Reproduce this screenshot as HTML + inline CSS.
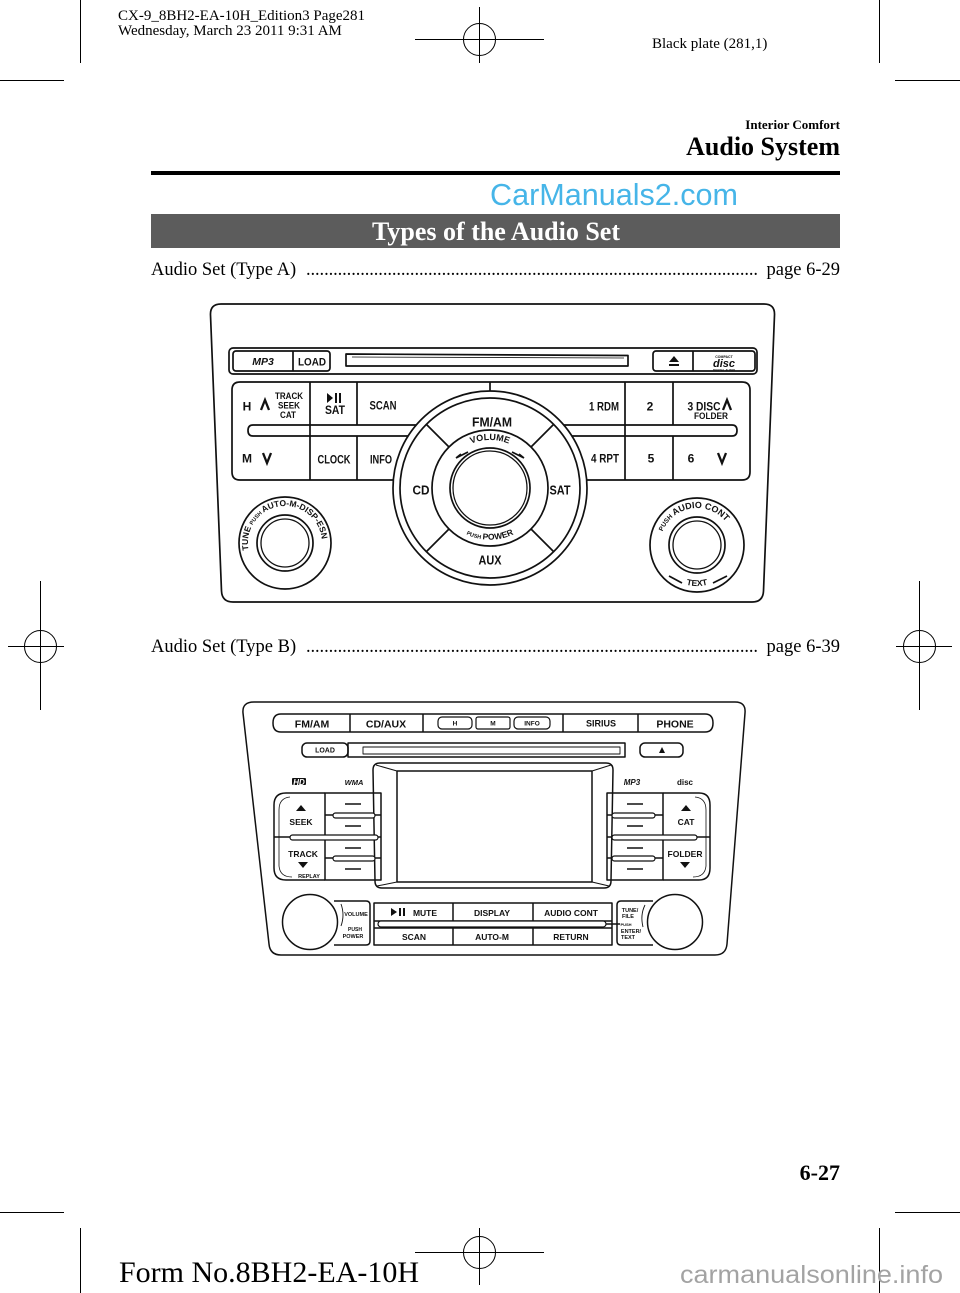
<!DOCTYPE html>
<html>
<head>
<meta charset="utf-8">
<style>
html,body{margin:0;padding:0;background:#fff;}
body{width:960px;height:1293px;position:relative;overflow:hidden;}
svg{position:absolute;left:0;top:0;}
.s{font-family:"Liberation Serif",serif;fill:#000;}
.l{font-family:"Liberation Sans",sans-serif;font-weight:bold;fill:#111;text-anchor:middle;}
</style>
</head>
<body>
<svg width="960" height="1293" viewBox="0 0 960 1293" xmlns="http://www.w3.org/2000/svg">
<defs>
  <path id="volArc" d="M448.4,464 A48,48 0 0,1 531.6,464"/>
  <path id="pwrArc" d="M446,517 A54,54 0 0,0 534,517"/>
  <path id="tuneArc" d="M250.2,555.7 A37,37 0 1,1 318.5,558.6"/>
  <path id="audArc" d="M660.6,538.6 A37,37 0 1,1 731.8,557.7"/>
  <path id="txtArc" d="M672,578 A43,43 0 0,0 722,578"/>
</defs>

<!-- crop marks -->
<g stroke="#000" stroke-width="1" fill="none">
  <line x1="80.5" y1="0" x2="80.5" y2="63"/>
  <line x1="879.5" y1="0" x2="879.5" y2="63"/>
  <line x1="0" y1="80.5" x2="64" y2="80.5"/>
  <line x1="895" y1="80.5" x2="960" y2="80.5"/>
  <line x1="415" y1="39.5" x2="544" y2="39.5"/>
  <line x1="479.5" y1="7" x2="479.5" y2="63"/>
  <circle cx="479.5" cy="39.5" r="16"/>
  <line x1="40.5" y1="581" x2="40.5" y2="710"/>
  <line x1="8" y1="646.5" x2="64" y2="646.5"/>
  <circle cx="40.5" cy="646.5" r="16"/>
  <line x1="919.5" y1="581" x2="919.5" y2="710"/>
  <line x1="896" y1="646.5" x2="952" y2="646.5"/>
  <circle cx="919.5" cy="646.5" r="16"/>
  <line x1="0" y1="1212.5" x2="64" y2="1212.5"/>
  <line x1="895" y1="1212.5" x2="960" y2="1212.5"/>
  <line x1="80.5" y1="1228" x2="80.5" y2="1293"/>
  <line x1="879.5" y1="1228" x2="879.5" y2="1293"/>
  <line x1="415" y1="1252.5" x2="544" y2="1252.5"/>
  <line x1="479.5" y1="1228" x2="479.5" y2="1285"/>
  <circle cx="479.5" cy="1252.5" r="16"/>
</g>

<!-- header text -->
<text class="s" x="118" y="20" font-size="15">CX-9_8BH2-EA-10H_Edition3 Page281</text>
<text class="s" x="118" y="35" font-size="15">Wednesday, March 23 2011 9:31 AM</text>
<text class="s" x="652" y="48" font-size="15">Black plate (281,1)</text>
<text class="s" x="840" y="129" font-size="13" font-weight="bold" text-anchor="end">Interior Comfort</text>
<text class="s" x="840" y="155" font-size="26" font-weight="bold" text-anchor="end">Audio System</text>
<rect x="151" y="171" width="689" height="4" fill="#000"/>
<text x="614" y="205" font-family="Liberation Sans, sans-serif" font-size="31" fill="#46b5e8" text-anchor="middle" textLength="248" lengthAdjust="spacingAndGlyphs">CarManuals2.com</text>
<rect x="151" y="214" width="689" height="34" fill="#5c5c5c"/>
<text class="s" x="496" y="240" font-size="26" font-weight="bold" fill="#fff" style="fill:#fff" text-anchor="middle">Types of the Audio Set</text>

<text class="s" x="151" y="275" font-size="18.5">Audio Set (Type A)</text>
<text class="s" x="306" y="275" font-size="18.5" textLength="452" lengthAdjust="spacing">....................................................................................................</text>
<text class="s" x="840" y="275" font-size="18.5" text-anchor="end">page 6-29</text>

<text class="s" x="151" y="652" font-size="18.5">Audio Set (Type B)</text>
<text class="s" x="306" y="652" font-size="18.5" textLength="452" lengthAdjust="spacing">....................................................................................................</text>
<text class="s" x="840" y="652" font-size="18.5" text-anchor="end">page 6-39</text>

<!-- ================= TYPE A ================= -->
<g stroke="#111" stroke-width="1.7" fill="none" stroke-linejoin="round">
  <path d="M221,304 H764 Q775,304 774.5,315 L763.5,591 Q763,602 752,602 H233 Q222,602 221.5,591 L210.5,315 Q210,304 221,304 Z"/>
  <rect x="229" y="348" width="528" height="26" rx="4"/>
  <rect x="233" y="351" width="97" height="20" rx="3"/>
  <line x1="293" y1="351" x2="293" y2="371"/>
  <path d="M346,354 L628,355.5 L628,366 L346,366 Z"/>
  <line x1="352" y1="357" x2="624" y2="358" stroke-width="0.8"/>
  <rect x="653" y="351" width="102" height="20" rx="3"/>
  <line x1="693" y1="351" x2="693" y2="371"/>

  <path d="M240,382 H742 Q750,382 750,390 V472 Q750,480 742,480 H240 Q232,480 232,472 V390 Q232,382 240,382 Z"/>
  <path d="M253,425 H732 Q737,425 737,430.5 Q737,436 732,436 H253 Q248,436 248,430.5 Q248,425 253,425 Z"/>
  <line x1="310" y1="382" x2="310" y2="480"/>
  <line x1="357" y1="382" x2="357" y2="425"/>
  <line x1="357" y1="436" x2="357" y2="480"/>
  <line x1="625" y1="382" x2="625" y2="480"/>
  <line x1="673" y1="382" x2="673" y2="425"/>
  <line x1="673" y1="436" x2="673" y2="480"/>
  <line x1="490" y1="382" x2="490" y2="392"/>

  <circle cx="490" cy="488" r="97" fill="#fff"/>
  <circle cx="490" cy="488" r="90"/>
  <circle cx="490" cy="488" r="58"/>
  <circle cx="490" cy="488" r="40"/>
  <circle cx="490" cy="488" r="37" stroke-width="1.3"/>
  <line x1="449" y1="447" x2="426" y2="424"/>
  <line x1="531" y1="447" x2="554" y2="424"/>
  <line x1="449" y1="529" x2="426" y2="552"/>
  <line x1="531" y1="529" x2="554" y2="552"/>
  <path d="M456,458 L468,452 M456,458 L461,454"/>
  <path d="M524,458 L512,452 M524,458 L519,454"/>

  <circle cx="285" cy="543" r="46"/>
  <circle cx="285" cy="543" r="28"/>
  <circle cx="285" cy="543" r="24" stroke-width="1.3"/>
  <circle cx="697" cy="545" r="47"/>
  <circle cx="697" cy="545" r="28"/>
  <circle cx="697" cy="545" r="24" stroke-width="1.3"/>
  <path d="M669,576 L682,583 M727,576 L713,583"/>
</g>
<g stroke="#111" stroke-width="2.3" fill="none">
  <path d="M261,410 L265,400 L269,410"/>
  <path d="M263,453 L267,463 L271,453"/>
  <path d="M723,410 L727,400 L731,410"/>
  <path d="M718,453 L722,463 L726,453"/>
</g>
<g fill="#111">
  <path d="M327,393 L327,403 L333,398 Z"/>
  <rect x="335" y="393" width="2" height="10"/>
  <rect x="339" y="393" width="2" height="10"/>
  <path d="M669,362 L679,362 L674,356 Z"/>
  <rect x="669" y="364" width="10" height="2"/>
</g>
<text class="l" x="263" y="365" font-size="10.5" font-style="italic">MP3</text>
<text class="l" x="312" y="365.5" font-size="11" textLength="28" lengthAdjust="spacingAndGlyphs">LOAD</text>
<text class="l" x="724" y="358" font-size="3.5">COMPACT</text>
<text class="l" x="724" y="367" font-size="11" font-style="italic">disc</text>
<text class="l" x="724" y="371" font-size="3">DIGITAL AUDIO</text>
<text class="l" x="247" y="410.5" font-size="12">H</text>
<text class="l" x="289" y="399" font-size="9.5" textLength="28" lengthAdjust="spacingAndGlyphs">TRACK</text>
<text class="l" x="289" y="408.5" font-size="9.5" textLength="22" lengthAdjust="spacingAndGlyphs">SEEK</text>
<text class="l" x="288" y="418" font-size="9.5" textLength="16" lengthAdjust="spacingAndGlyphs">CAT</text>
<text class="l" x="335" y="414" font-size="12" textLength="20" lengthAdjust="spacingAndGlyphs">SAT</text>
<text class="l" x="383" y="409.5" font-size="12" textLength="27" lengthAdjust="spacingAndGlyphs">SCAN</text>
<text class="l" x="247" y="462.5" font-size="12">M</text>
<text class="l" x="334" y="463.5" font-size="12" textLength="33" lengthAdjust="spacingAndGlyphs">CLOCK</text>
<text class="l" x="381" y="463.5" font-size="12" textLength="22" lengthAdjust="spacingAndGlyphs">INFO</text>
<text class="l" x="604" y="410.5" font-size="12" textLength="30" lengthAdjust="spacingAndGlyphs">1 RDM</text>
<text class="l" x="650" y="410.5" font-size="12">2</text>
<text class="l" x="704" y="410.5" font-size="12" textLength="33" lengthAdjust="spacingAndGlyphs">3 DISC</text>
<text class="l" x="711" y="419" font-size="9.5" textLength="34" lengthAdjust="spacingAndGlyphs">FOLDER</text>
<text class="l" x="605" y="462.5" font-size="12" textLength="28" lengthAdjust="spacingAndGlyphs">4 RPT</text>
<text class="l" x="651" y="462.5" font-size="12">5</text>
<text class="l" x="691" y="462.5" font-size="12">6</text>
<text class="l" x="492" y="426.5" font-size="13" textLength="40" lengthAdjust="spacingAndGlyphs">FM/AM</text>
<text class="l" x="421" y="494.5" font-size="12.5" textLength="17" lengthAdjust="spacingAndGlyphs">CD</text>
<text class="l" x="560" y="494.5" font-size="12.5" textLength="21" lengthAdjust="spacingAndGlyphs">SAT</text>
<text class="l" x="490" y="564.5" font-size="12.5" textLength="23" lengthAdjust="spacingAndGlyphs">AUX</text>
<text class="l" font-size="9"><textPath href="#volArc" startOffset="50%">VOLUME</textPath></text>
<text class="l" font-size="8.5"><textPath href="#pwrArc" startOffset="50%"><tspan font-size="5.5">PUSH </tspan>POWER</textPath></text>
<text class="l" font-size="8.5" style="text-anchor:start"><textPath href="#tuneArc" startOffset="4%">TUNE <tspan font-size="5.5">PUSH </tspan>AUTO-M-DISP-ESN</textPath></text>
<text class="l" font-size="9" style="text-anchor:start"><textPath href="#audArc" startOffset="6%"><tspan font-size="6.5">PUSH </tspan>AUDIO CONT</textPath></text>
<text class="l" font-size="8.5"><textPath href="#txtArc" startOffset="50%">TEXT</textPath></text>

<!-- ================= TYPE B ================= -->
<g stroke="#111" stroke-width="1.5" fill="none" stroke-linejoin="round">
  <path d="M254,702 H735 Q746,702 745,713 L727,944 Q726,955 715,955 H281 Q270,955 269,944 L243,713 Q242,702 254,702 Z"/>
  <path d="M281,714 H705 Q713,714 713,723 Q713,732 705,732 H281 Q273,732 273,723 Q273,714 281,714 Z"/>
  <line x1="350" y1="714" x2="350" y2="732"/>
  <line x1="423" y1="714" x2="423" y2="732"/>
  <line x1="563" y1="714" x2="563" y2="732"/>
  <line x1="638" y1="714" x2="638" y2="732"/>
  <rect x="438" y="717" width="34" height="12" rx="4" stroke-width="1.2"/>
  <rect x="476" y="717" width="34" height="12" rx="2" stroke-width="1.2"/>
  <rect x="514" y="717" width="36" height="12" rx="4" stroke-width="1.2"/>

  <rect x="302" y="743" width="46" height="14" rx="5"/>
  <rect x="348" y="743" width="277" height="14"/>
  <path d="M363,747 H620 V754 H363 Z" stroke-width="0.9"/>
  <rect x="640" y="743" width="43" height="14" rx="5"/>

  <path d="M380,763 H606 Q613,763 613,770 L611,881 Q611,888 604,888 H382 Q375,888 375,881 L373,770 Q373,763 380,763 Z"/>
  <rect x="397" y="771" width="195" height="111"/>
  <line x1="376" y1="765" x2="397" y2="771" stroke-width="1"/>
  <line x1="611" y1="765" x2="592" y2="771" stroke-width="1"/>
  <line x1="377" y1="886" x2="397" y2="882" stroke-width="1"/>
  <line x1="609" y1="886" x2="592" y2="882" stroke-width="1"/>

  <path d="M325,793 H286 Q274,793 274,805 V868 Q274,880 286,880 H325"/>
  <path d="M290,797 Q279,798 279,810 V866 Q280,877 292,877" stroke-width="0.8"/>
  <rect x="325" y="793" width="56" height="87"/>
  <line x1="325" y1="815" x2="381" y2="815"/>
  <line x1="274" y1="837" x2="381" y2="837"/>
  <line x1="325" y1="858" x2="381" y2="858"/>
  <rect x="333" y="813" width="42" height="5" rx="2.5" fill="#fff" stroke-width="1.2"/>
  <rect x="290" y="835" width="88" height="5" rx="2.5" fill="#fff" stroke-width="1.2"/>
  <rect x="333" y="856" width="42" height="5" rx="2.5" fill="#fff" stroke-width="1.2"/>
  <line x1="345" y1="804" x2="361" y2="804"/>
  <line x1="345" y1="826" x2="361" y2="826"/>
  <line x1="345" y1="848" x2="361" y2="848"/>
  <line x1="345" y1="869" x2="361" y2="869"/>

  <rect x="607" y="793" width="56" height="87"/>
  <path d="M663,793 H699 Q710,793 710,805 V868 Q710,880 699,880 H663"/>
  <path d="M695,797 Q706,798 706,810 V866 Q705,877 693,877" stroke-width="0.8"/>
  <line x1="607" y1="815" x2="663" y2="815"/>
  <line x1="607" y1="837" x2="710" y2="837"/>
  <line x1="607" y1="858" x2="663" y2="858"/>
  <rect x="612" y="813" width="43" height="5" rx="2.5" fill="#fff" stroke-width="1.2"/>
  <rect x="612" y="835" width="85" height="5" rx="2.5" fill="#fff" stroke-width="1.2"/>
  <rect x="612" y="856" width="43" height="5" rx="2.5" fill="#fff" stroke-width="1.2"/>
  <line x1="627" y1="804" x2="643" y2="804"/>
  <line x1="627" y1="826" x2="643" y2="826"/>
  <line x1="627" y1="848" x2="643" y2="848"/>
  <line x1="627" y1="869" x2="643" y2="869"/>

  <circle cx="310" cy="922" r="27.5"/>
  <path d="M334,901 H366 Q370,901 370,905 V941 Q370,945 366,945 H334"/>
  <path d="M341,904 Q345,915 341,926" stroke-width="0.9"/>
  <rect x="374" y="903" width="238" height="42"/>
  <line x1="374" y1="921" x2="612" y2="921"/>
  <line x1="374" y1="928" x2="612" y2="928"/>
  <rect x="378" y="921" width="228" height="6" rx="3" fill="#fff" stroke-width="1.2"/>
  <line x1="606" y1="924" x2="620" y2="924"/>
  <line x1="453" y1="903" x2="453" y2="921"/>
  <line x1="453" y1="928" x2="453" y2="945"/>
  <line x1="533" y1="903" x2="533" y2="921"/>
  <line x1="533" y1="928" x2="533" y2="945"/>
  <path d="M653,901 H621 Q617,901 617,905 V941 Q617,945 621,945 H653"/>
  <path d="M645,905 Q640,915 643,927" stroke-width="0.9"/>
  <circle cx="675" cy="922" r="27.5" fill="#fff"/>
</g>
<g fill="#111">
  <path d="M391,908 L391,916 L397,912 Z"/>
  <rect x="399" y="908" width="2" height="8"/>
  <rect x="403" y="908" width="2" height="8"/>
  <path d="M296,811 L306,811 L301,805 Z"/>
  <path d="M298,862 L308,862 L303,868 Z"/>
  <path d="M681,811 L691,811 L686,805 Z"/>
  <path d="M680,862 L690,862 L685,868 Z"/>
  <path d="M659,753 L665,753 L662,747 Z"/>
  <rect x="292" y="778" width="14" height="7" rx="1"/>
</g>
<text class="l" x="312" y="727.5" font-size="10.5">FM/AM</text>
<text class="l" x="386" y="727.5" font-size="10.5">CD/AUX</text>
<text class="l" x="455" y="725.5" font-size="6.5">H</text>
<text class="l" x="493" y="725.5" font-size="6.5">M</text>
<text class="l" x="532" y="725.5" font-size="6.5">INFO</text>
<text class="l" x="601" y="726.5" font-size="9">SIRIUS</text>
<text class="l" x="675" y="727.5" font-size="10.5">PHONE</text>
<text class="l" x="325" y="752.5" font-size="7">LOAD</text>
<text class="l" x="299" y="785" font-size="8" font-style="italic" style="fill:#fff">HD</text>
<text class="l" x="354" y="785" font-size="7.5" font-style="italic">WMA</text>
<text class="l" x="632" y="785" font-size="8" font-style="italic">MP3</text>
<text class="l" x="685" y="785" font-size="8">disc</text>
<text class="l" x="301" y="825" font-size="8.5">SEEK</text>
<text class="l" x="303" y="857" font-size="8.5">TRACK</text>
<text class="l" x="309" y="878" font-size="5.5">REPLAY</text>
<text class="l" x="686" y="825" font-size="8.5">CAT</text>
<text class="l" x="685" y="857" font-size="8.5">FOLDER</text>
<text class="l" x="356" y="916" font-size="5.5">VOLUME</text>
<text class="l" x="355" y="931" font-size="5">PUSH</text>
<text class="l" x="353" y="938" font-size="5.5">POWER</text>
<text class="l" x="425" y="916" font-size="8.5">MUTE</text>
<text class="l" x="492" y="916" font-size="8.5">DISPLAY</text>
<text class="l" x="571" y="916" font-size="8.5">AUDIO CONT</text>
<text class="l" x="414" y="940" font-size="8.5">SCAN</text>
<text class="l" x="492" y="940" font-size="8.5">AUTO-M</text>
<text class="l" x="571" y="940" font-size="8.5">RETURN</text>
<text class="l" x="630" y="912" font-size="5.5">TUNE/</text>
<text class="l" x="628" y="918" font-size="5.5">FILE</text>
<text class="l" x="626" y="926" font-size="4">PUSH</text>
<text class="l" x="631" y="933" font-size="5.5">ENTER/</text>
<text class="l" x="628" y="939" font-size="5.5">TEXT</text>

<!-- footer -->
<text class="s" x="840" y="1180" font-size="22" font-weight="bold" text-anchor="end">6-27</text>
<text class="s" x="119" y="1282" font-size="30">Form No.8BH2-EA-10H</text>
<text x="680" y="1283" font-family="Liberation Sans, sans-serif" font-size="25" fill="#a3a3a3" textLength="263" lengthAdjust="spacingAndGlyphs">carmanualsonline.info</text>
</svg>
</body>
</html>
